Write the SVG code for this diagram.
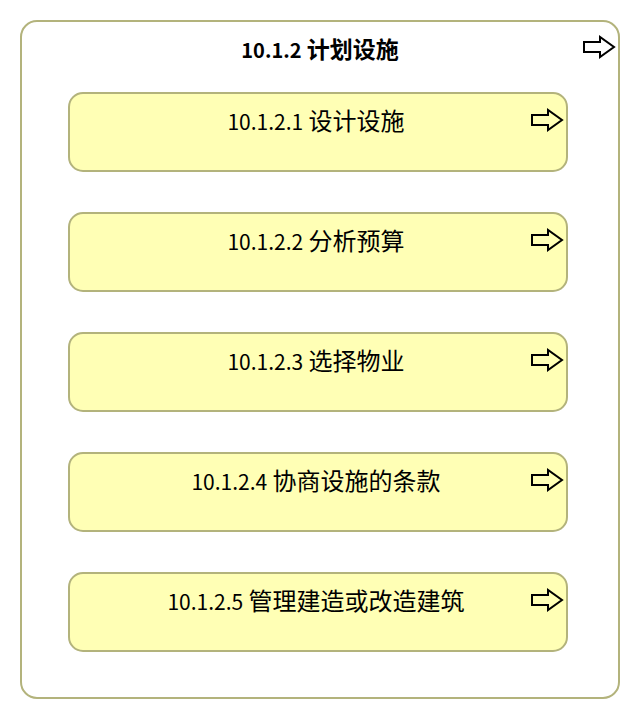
<svg xmlns="http://www.w3.org/2000/svg" xmlns:xlink="http://www.w3.org/1999/xlink" width="640" height="720" viewBox="0 0 640 720">
<style>
.outer{fill:#ffffff;stroke:#b3b37c;stroke-width:2}
.box{fill:#ffffb5;stroke:#b3b37c;stroke-width:2}
.t{font-family:"Noto Sans CJK SC","Noto Sans",sans-serif;font-size:24px;fill:#000;text-anchor:middle}
.t .d{font-size:21px}
.title{font-family:"Noto Sans CJK SC","Noto Sans",sans-serif;font-size:23px;font-weight:bold;fill:#000;text-anchor:middle}
.title .d{font-size:20px}
.arr{fill:none;stroke:#000;stroke-width:2;stroke-linejoin:miter}
</style>
<defs>
<path id="arrow" class="arr" d="M0,-5 H16 V-10 L30,0 L16,10 V5 H0 Z"/>
</defs>
<g id="n0">
<rect class="outer" x="21" y="21" width="598" height="677" rx="16"/>
<text class="title" x="320" y="58"><tspan class="d">10.1.2</tspan> 计划设施</text>
<use xlink:href="#arrow" x="584" y="47"/>
</g>
<g id="n1">
<rect class="box" x="69" y="93" width="498" height="78" rx="14"/>
<text class="t" x="316" y="130"><tspan class="d">10.1.2.1</tspan> 设计设施</text>
<use xlink:href="#arrow" x="532" y="120"/>
</g>
<g id="n2">
<rect class="box" x="69" y="213" width="498" height="78" rx="14"/>
<text class="t" x="316" y="250"><tspan class="d">10.1.2.2</tspan> 分析预算</text>
<use xlink:href="#arrow" x="532" y="240"/>
</g>
<g id="n3">
<rect class="box" x="69" y="333" width="498" height="78" rx="14"/>
<text class="t" x="316" y="370"><tspan class="d">10.1.2.3</tspan> 选择物业</text>
<use xlink:href="#arrow" x="532" y="360"/>
</g>
<g id="n4">
<rect class="box" x="69" y="453" width="498" height="78" rx="14"/>
<text class="t" x="316" y="490"><tspan class="d">10.1.2.4</tspan> 协商设施的条款</text>
<use xlink:href="#arrow" x="532" y="480"/>
</g>
<g id="n5">
<rect class="box" x="69" y="573" width="498" height="78" rx="14"/>
<text class="t" x="316" y="610"><tspan class="d">10.1.2.5</tspan> 管理建造或改造建筑</text>
<use xlink:href="#arrow" x="532" y="600"/>
</g>
<g id="connectors"></g>
</svg>
